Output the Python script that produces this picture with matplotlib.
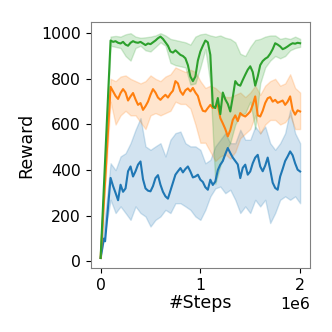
import numpy as np
import matplotlib
matplotlib.use("Agg")
import matplotlib.pyplot as plt

# x grid (in millions of steps) for the mean curves
grid = [round(0.1 + 0.025 * i, 3) for i in range(77)]
band_grid = [round(0.1 + 0.05 * i, 3) for i in range(39)]

green_prefix_x = [0.0]
green_prefix_y = [15]
green_mean = [968, 962, 965, 958, 955, 962, 950, 945, 958, 965, 960, 958,
              962, 955, 948, 955, 952, 960, 968, 978, 985, 975, 960, 945,
              920, 915, 925, 915, 905, 900, 890, 860, 810, 790, 810, 880,
              920, 945, 968, 960, 905, 680, 672, 716, 645, 740, 710, 690,
              657, 720, 790, 775, 770, 795, 818, 840, 855, 830, 770, 810,
              860, 878, 888, 895, 910, 930, 956, 950, 942, 930, 935, 942,
              950, 956, 954, 958, 956]
green_upper = [985, 988, 985, 995, 1000, 985, 980, 982, 985, 990, 1000, 990,
               975, 970, 965, 960, 950, 985, 995, 998, 990, 985, 990, 980,
               975, 960, 910, 900, 940, 970, 975, 985, 990, 990, 975, 980,
               975, 985, 975]
green_lower = [945, 940, 935, 900, 880, 935, 945, 925, 920, 940, 960, 945,
               870, 860, 855, 850, 775, 780, 850, 930, 780, 340, 420, 480,
               520, 600, 640, 650, 700, 580, 780, 850, 880, 900, 890, 900,
               925, 935, 940]

orange_prefix_x = [0.0]
orange_prefix_y = [15]
orange_mean = [765, 745, 725, 712, 738, 755, 740, 705, 723, 738, 710, 686,
               694, 664, 680, 700, 730, 755, 740, 718, 708, 720, 730, 718,
               735, 748, 790, 780, 745, 730, 750, 758, 745, 760, 740, 725,
               686, 660, 657, 672, 686, 672, 680, 686, 628, 605, 580, 548,
               575, 620, 640, 615, 650, 640, 635, 645, 657, 686, 723, 640,
               635, 660, 694, 715, 720, 700, 708, 695, 700, 705, 686, 700,
               723, 664, 643, 662, 657]
orange_upper = [800, 790, 810, 815, 800, 790, 780, 790, 815, 800, 790, 810,
                820, 850, 840, 830, 840, 830, 790, 760, 770, 760, 740, 720,
                720, 730, 740, 720, 740, 770, 730, 770, 790, 800, 770, 780,
                820, 760, 740]
orange_lower = [700, 600, 640, 660, 640, 640, 610, 580, 640, 650, 640, 650,
                660, 700, 690, 690, 670, 600, 520, 520, 480, 440, 460, 470,
                450, 480, 540, 560, 580, 640, 560, 600, 620, 620, 600, 610,
                640, 580, 580]

blue_prefix_x = [0.0, 0.033, 0.045, 0.067]
blue_prefix_y = [15, 100, 88, 200]
blue_mean = [366, 330, 300, 268, 336, 305, 320, 395, 416, 372, 395, 424,
             438, 360, 320, 310, 307, 330, 365, 378, 336, 305, 285, 275,
             310, 345, 380, 395, 409, 390, 405, 416, 394, 368, 372, 380,
             358, 348, 325, 314, 358, 335, 350, 400, 424, 440, 470, 497,
             475, 455, 440, 425, 365, 410, 424, 380, 394, 430, 455, 467,
             416, 395, 420, 455, 402, 345, 322, 314, 372, 405, 440, 460,
             482, 465, 430, 402, 394]
blue_upper = [430, 400, 460, 474, 518, 577, 628, 504, 489, 504, 518, 460,
              533, 562, 569, 518, 504, 504, 489, 430, 445, 504, 533, 562,
              518, 518, 577, 533, 533, 591, 562, 591, 518, 489, 518, 562,
              664, 562, 518]
blue_lower = [270, 212, 241, 212, 182, 241, 212, 197, 153, 182, 197, 226,
              212, 255, 255, 241, 226, 197, 182, 226, 285, 320, 328, 299,
              314, 270, 212, 241, 212, 270, 241, 270, 168, 212, 270, 285,
              270, 285, 255]

xticks = [0, 1e6, 2e6]
yticks = [0, 200, 400, 600, 800, 1000]

fig = plt.figure(figsize=(3.32, 3.32), dpi=100)
ax = fig.add_axes([0.273, 0.192, 0.661, 0.741])

series = [
    (blue_prefix_x, blue_prefix_y, blue_mean, blue_upper, blue_lower, "C0"),
    (orange_prefix_x, orange_prefix_y, orange_mean, orange_upper, orange_lower, "C1"),
    (green_prefix_x, green_prefix_y, green_mean, green_upper, green_lower, "C2"),
]
for px, py, mean, up, lo, c in series:
    x = np.array(px + grid) * 1e6
    y = np.array(py + mean)
    bx = np.array(px[:1] + band_grid) * 1e6
    bu = np.array(py[:1] + up)
    bl = np.array(py[:1] + lo)
    ax.fill_between(bx, bl, bu, color=c, alpha=0.2)
    ax.plot(x, y, color=c, lw=1.5)

ax.set_xlim(-0.1e6, 2.1e6)
ax.set_ylim(-30, 1048)
ax.set_xticks(xticks)
ax.set_yticks(yticks)
ax.tick_params(labelsize=11.3)
ax.xaxis.get_offset_text().set_fontsize(11.3)
ax.set_xlabel("#Steps", fontsize=12.5, labelpad=1)
ax.set_ylabel("Reward", fontsize=12.5)
for s in ax.spines.values():
    s.set_color("0.5")

fig.savefig("out.png", dpi=100)
